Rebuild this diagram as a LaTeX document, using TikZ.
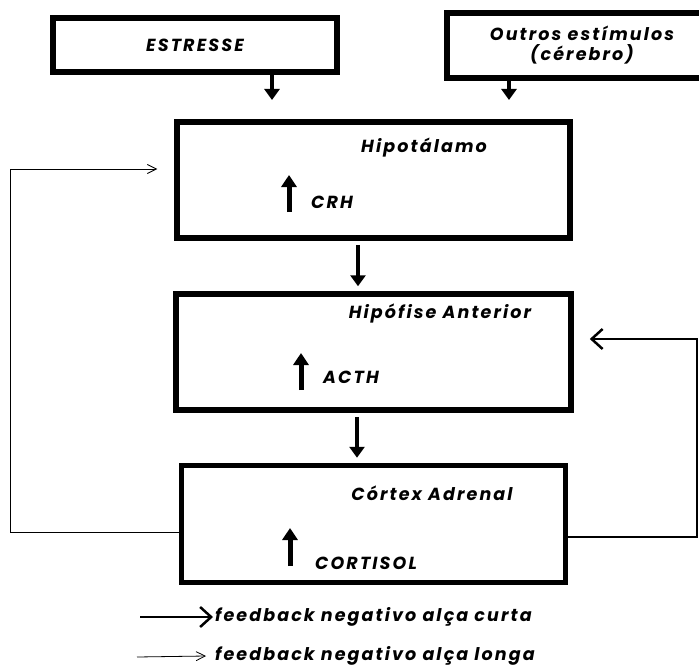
\documentclass[tikz,border=0pt]{standalone}
\usepackage{fontspec}
\setmainfont{Poppins}[LetterSpace=12]
\usetikzlibrary{arrows.meta}

\begin{document}
\begin{tikzpicture}[x=1pt, y=-1pt, node distance=172pt,
  every node/.style={inner sep=1pt, font=\bfseries\itshape\fontsize{17.5}{20}\selectfont},
  box/.style={draw, rectangle, line width=5.5pt, inner sep=0pt},
  down/.style={line width=4.5pt, -{Triangle[length=11pt,width=15pt]}},
  up/.style={line width=5pt, -{Triangle[length=12pt,width=15pt]}},
  shortfb/.style={line width=2.5pt, -{Straight Barb[length=11pt,width=20pt]}},
  longfb/.style={line width=0.8pt, -{Straight Barb[length=9pt,width=9pt]}}]
  \useasboundingbox (0,0) rectangle (699,666);

  \node (stress) [box, minimum width=284pt, minimum height=54pt] at (195,45) {ESTRESSE};
  \node (outros) [box, minimum width=270pt, minimum height=65pt, align=center] at (582,45.5) {Outros estímulos\\(cérebro)};

  \node (hipo) [box, minimum width=393pt, minimum height=116pt] at (373.5,180) {};
  \node (hipof) [box, minimum width=395pt, minimum height=116pt, below of=hipo] {};
  \node (cortex) [box, minimum width=384pt, minimum height=117pt, below of=hipof] {};

  \node (thipo) at (424,148) {Hipotálamo};
  \node (thipof) at (440,313) {Hipófise Anterior};
  \node (tcortex) at (432,493) {Córtex Adrenal};

  \node (crh) [anchor=west] at (310,202) {CRH};
  \node (acth) [anchor=west] at (322,377) {ACTH};
  \node (cort) [anchor=west] at (314,563) {CORTISOL};

  \node (curta) [anchor=west] at (214,617) {feedback negativo alça curta};
  \node (longa) [anchor=west] at (214,656) {feedback negativo alça longa};

  \coordinate (in1) at (272,100);
  \coordinate (in2) at (509,100);
  \coordinate (c0) at (140,617);
  \coordinate (l0) at (137,657);

  \draw[down] (stress.south -| in1) -- (in1);
  \draw[down] (outros.south -| in2) -- (in2);
  \draw[down] ([xshift=-15.5pt,yshift=-4pt]hipo.south) -- ([xshift=-15.5pt,yshift=5pt]hipof.north);
  \draw[down] ([xshift=-16.5pt,yshift=-4pt]hipof.south) -- ([xshift=-16.5pt,yshift=5pt]cortex.north);

  \draw[up] ([xshift=-21pt,yshift=-10pt]crh.west) -- ++(0,-37);
  \draw[up] ([xshift=-21pt,yshift=-13pt]acth.west) -- ++(0,-37);
  \draw[up] ([xshift=-24pt,yshift=-3pt]cort.west) -- ++(0,-38);

  \draw[longfb] ([yshift=-8pt]cortex.west) -- ++(-168,0) |- ([xshift=-17pt,yshift=11pt]hipo.west);
  \draw[shortfb] ([yshift=-13pt]cortex.east) -- ++(128.5,0) |- ([xshift=16pt,yshift=13pt]hipof.east);

  \draw[shortfb] (c0) -- ([xshift=-1pt]curta.west);
  \draw[longfb] (l0) -- ([xshift=-8pt]longa.west);
\end{tikzpicture}
\end{document}
